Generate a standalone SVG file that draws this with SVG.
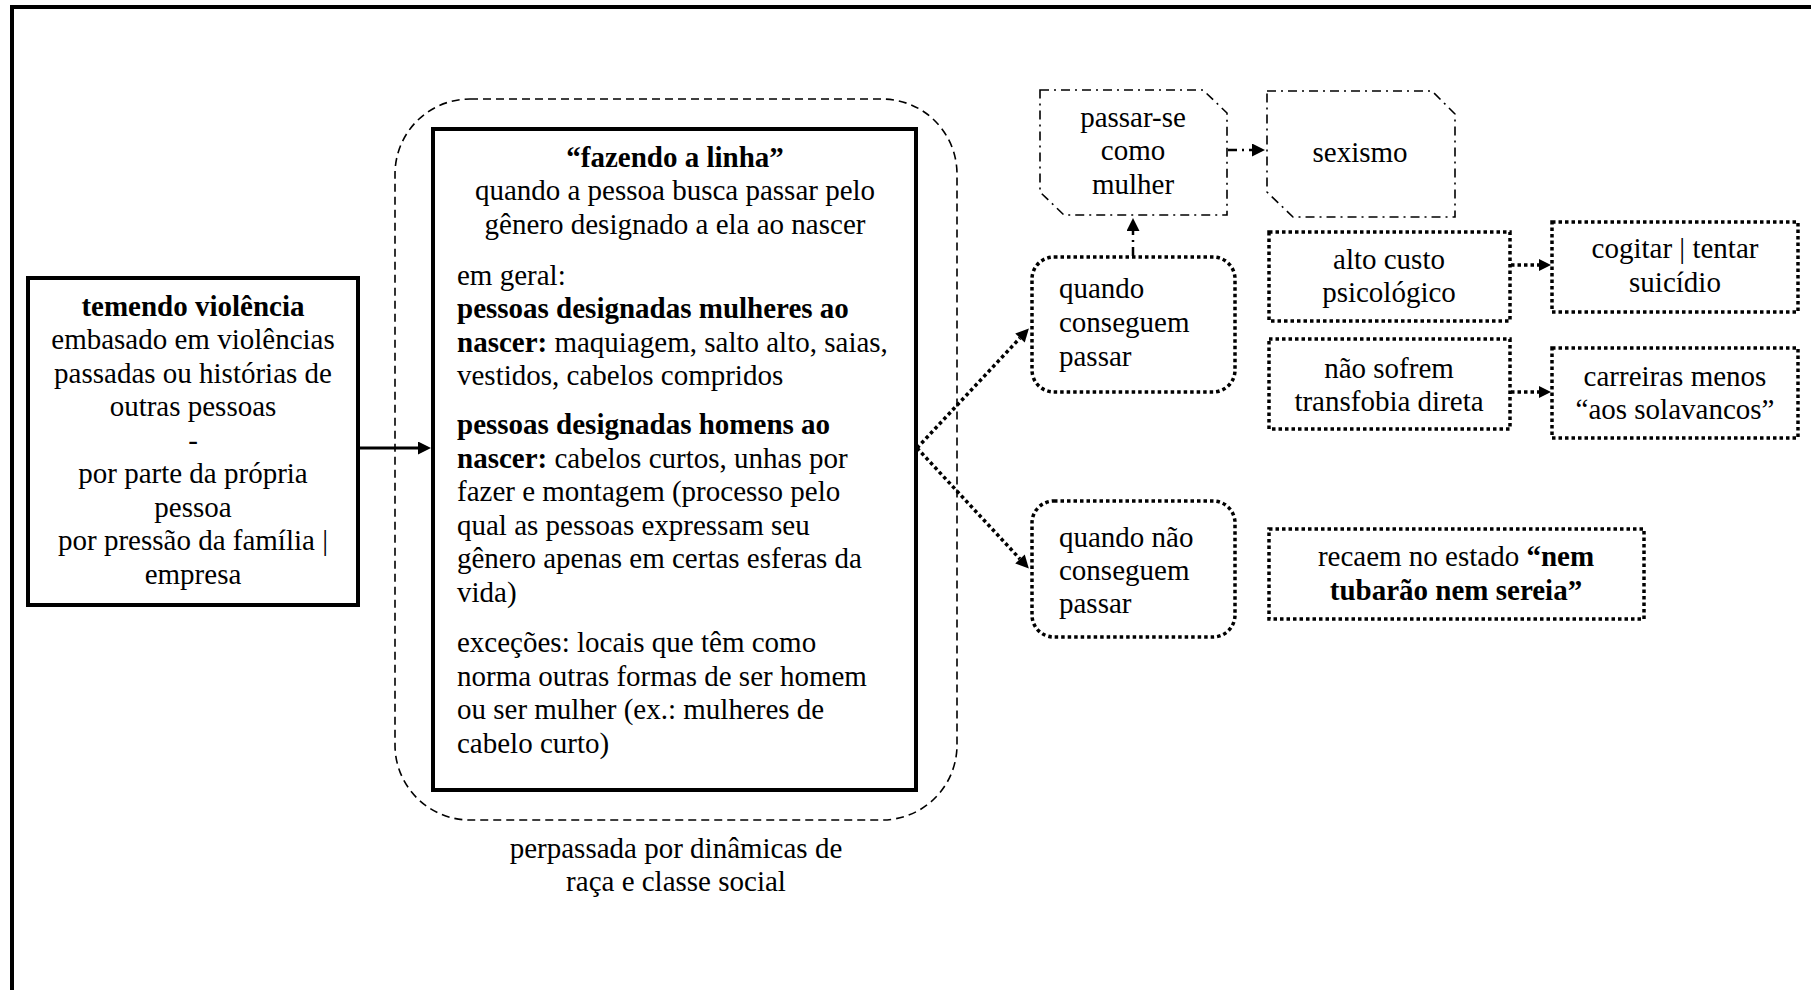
<svg xmlns="http://www.w3.org/2000/svg" width="1811" height="990" viewBox="0 0 1811 990">
  <style>
    text { font-family: "Liberation Serif", "Times New Roman", serif; font-size: 29px; fill: #000; }
    .c { text-anchor: middle; }
    .b { font-weight: bold; }
    .solid { fill: #fff; stroke: #000; stroke-width: 4; }
    .group { fill: none; stroke: #000; stroke-width: 1.6; stroke-dasharray: 8 5; }
    .dotted { fill: #fff; stroke: #000; stroke-width: 3.5; stroke-dasharray: 3.5 3; }
    .dashdot { fill: #fff; stroke: #000; stroke-width: 1.6; stroke-dasharray: 9 5 2 5; }
    .link-solid { fill: none; stroke: #000; stroke-width: 3; }
    .link-dot { fill: none; stroke: #000; stroke-width: 3.5; stroke-dasharray: 3.5 3; }
    .link-dashdot { fill: none; stroke: #000; stroke-width: 2.5; stroke-dasharray: 9 5 2 5; }
  </style>
  <defs>
    <marker id="head" viewBox="0 0 10 10" refX="0" refY="5" markerUnits="userSpaceOnUse" markerWidth="15" markerHeight="13" orient="auto">
      <path d="M0,0 L10,5 L0,10 Z" fill="#000"/>
    </marker>
    <marker id="head-sm" viewBox="0 0 10 10" refX="0" refY="5" markerUnits="userSpaceOnUse" markerWidth="13" markerHeight="12" orient="auto">
      <path d="M0,0 L10,5 L0,10 Z" fill="#000"/>
    </marker>
  </defs>

  <rect width="1811" height="990" fill="#fff"/>
  <!-- page frame -->
  <path d="M12,990 V7 H1811" fill="none" stroke="#000" stroke-width="4"/>

  <!-- dashed envelope around the central box -->
  <g id="envelope">
    <rect class="group" x="395" y="99" width="562" height="721" rx="75" ry="75"/>
    <text class="c" x="676" y="858">perpassada por dinâmicas de</text>
    <text class="c" x="676" y="891">raça e classe social</text>
  </g>

  <g id="temendo">
    <rect class="solid" x="28" y="278" width="330" height="327" stroke-width="3.5"/>
    <text class="c b" x="193" y="316">temendo violência</text>
    <text class="c" x="193" y="349">embasado em violências</text>
    <text class="c" x="193" y="383">passadas ou histórias de</text>
    <text class="c" x="193" y="416">outras pessoas</text>
    <text class="c" x="193" y="450">-</text>
    <text class="c" x="193" y="483">por parte da própria</text>
    <text class="c" x="193" y="517">pessoa</text>
    <text class="c" x="193" y="550">por pressão da família |</text>
    <text class="c" x="193" y="584">empresa</text>
  </g>

  <g id="fazendo">
    <rect class="solid" x="433" y="129" width="483" height="661"/>
    <text class="c b" x="675" y="167">“fazendo a linha”</text>
    <text class="c" x="675" y="200">quando a pessoa busca passar pelo</text>
    <text class="c" x="675" y="234">gênero designado a ela ao nascer</text>
    <text x="457" y="285">em geral:</text>
    <text x="457" y="318" class="b">pessoas designadas mulheres ao</text>
    <text x="457" y="352"><tspan class="b">nascer:</tspan> maquiagem, salto alto, saias,</text>
    <text x="457" y="385">vestidos, cabelos compridos</text>
    <text x="457" y="434" class="b">pessoas designadas homens ao</text>
    <text x="457" y="468"><tspan class="b">nascer:</tspan> cabelos curtos, unhas por</text>
    <text x="457" y="501">fazer e montagem (processo pelo</text>
    <text x="457" y="535">qual as pessoas expressam seu</text>
    <text x="457" y="568">gênero apenas em certas esferas da</text>
    <text x="457" y="602">vida)</text>
    <text x="457" y="652">exceções: locais que têm como</text>
    <text x="457" y="686">norma outras formas de ser homem</text>
    <text x="457" y="719">ou ser mulher (ex.: mulheres de</text>
    <text x="457" y="753">cabelo curto)</text>
  </g>

  <g id="passar-mulher">
    <path class="dashdot" d="M1040,90 H1203 L1227,113 V215 H1064 L1040,192 Z"/>
    <text class="c" x="1133" y="127">passar-se</text>
    <text class="c" x="1133" y="160">como</text>
    <text class="c" x="1133" y="194">mulher</text>
  </g>

  <g id="sexismo">
    <path class="dashdot" d="M1267,91 H1432 L1455,114 V217 H1293 L1267,192 Z"/>
    <text class="c" x="1360" y="162">sexismo</text>
  </g>

  <g id="conseguem">
    <rect class="dotted" x="1032" y="257" width="203" height="135" rx="22" ry="22"/>
    <text x="1059" y="298">quando</text>
    <text x="1059" y="332">conseguem</text>
    <text x="1059" y="366">passar</text>
  </g>

  <g id="nao-conseguem">
    <rect class="dotted" x="1032" y="501" width="203" height="136" rx="22" ry="22"/>
    <text x="1059" y="547">quando não</text>
    <text x="1059" y="580">conseguem</text>
    <text x="1059" y="613">passar</text>
  </g>

  <g id="alto-custo">
    <rect class="dotted" x="1269" y="232" width="241" height="89"/>
    <text class="c" x="1389" y="269">alto custo</text>
    <text class="c" x="1389" y="302">psicológico</text>
  </g>

  <g id="suicidio">
    <rect class="dotted" x="1552" y="222" width="246" height="90"/>
    <text class="c" x="1675" y="258">cogitar | tentar</text>
    <text class="c" x="1675" y="292">suicídio</text>
  </g>

  <g id="transfobia">
    <rect class="dotted" x="1269" y="339" width="241" height="90"/>
    <text class="c" x="1389" y="378">não sofrem</text>
    <text class="c" x="1389" y="411">transfobia direta</text>
  </g>

  <g id="carreiras">
    <rect class="dotted" x="1552" y="348" width="246" height="90"/>
    <text class="c" x="1675" y="386">carreiras menos</text>
    <text class="c" x="1675" y="419">“aos solavancos”</text>
  </g>

  <g id="nem-sereia">
    <rect class="dotted" x="1269" y="529" width="375" height="90"/>
    <text class="c" x="1456" y="566">recaem no estado <tspan class="b">“nem</tspan></text>
    <text class="c b" x="1456" y="600">tubarão nem sereia”</text>
  </g>

  <!-- connectors -->
  <g id="connectors">
    <path class="link-solid" d="M358,448 H418" marker-end="url(#head)"/>
    <path class="link-dot" d="M917,448 L1020,338" marker-end="url(#head)"/>
    <path class="link-dot" d="M917,448 L1020,559" marker-end="url(#head)"/>
    <path class="link-dashdot" d="M1133,256 V231" marker-end="url(#head)"/>
    <path class="link-dashdot" d="M1228,150 H1252" marker-end="url(#head)"/>
    <path class="link-dot" d="M1511,265 H1539" marker-end="url(#head-sm)"/>
    <path class="link-dot" d="M1511,392 H1539" marker-end="url(#head-sm)"/>
  </g>
</svg>
